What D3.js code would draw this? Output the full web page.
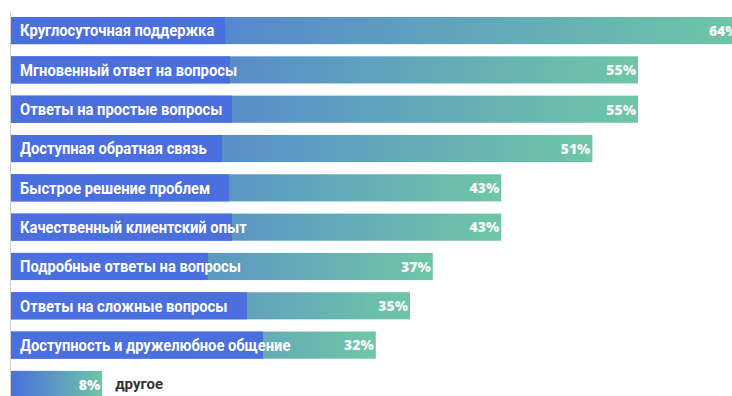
<!DOCTYPE html>
<meta charset="utf-8">
<style>
body { margin: 0; background: #fff; }
.label { font-family: Roboto, sans-serif; font-weight: 700; font-size: 16px; fill: #fff; }
.value { font-family: "Open Sans", sans-serif; font-weight: 800; font-size: 14px; fill: #f2f6f4; }
.other { font-family: Roboto, sans-serif; font-weight: 700; font-size: 15px; fill: #333; }
</style>
<svg class="chart" width="732" height="396"></svg>
<script src="https://d3js.org/d3.v7.min.js"></script>
<script>

var categories = [
  "Круглосуточная поддержка",
  "Мгновенный ответ на вопросы",
  "Ответы на простые вопросы",
  "Доступная обратная связь",
  "Быстрое решение проблем",
  "Качественный клиентский опыт",
  "Подробные ответы на вопросы",
  "Ответы на сложные вопросы",
  "Доступность и дружелюбное общение",
  "другое"
];
var values = [64, 55, 55, 51, 43, 43, 37, 35, 32, 8];
var valueLabels = ["64%", "55%", "55%", "51%", "43%", "43%", "37%", "35%", "32%", "8%"];

// width of the solid blue patch behind each label (styling only)
var patchWidth = [214, 219, 221, 211, 218, 221, 197, 236, 252, 0];

var svg = d3.select(".chart"),
    width = +svg.attr("width"),
    height = +svg.attr("height");

var x = d3.scaleLinear().domain([0, 55]).range([11, 638]);
var y = d3.scaleBand().domain(categories).range([17, 398]).paddingInner(0.31).paddingOuter(0);

var defs = svg.append("defs");
var grad = defs.append("linearGradient").attr("id", "barGrad");
grad.append("stop").attr("offset", "0%").attr("stop-color", "#4a6fdd");
grad.append("stop").attr("offset", "100%").attr("stop-color", "#6fc6a6");

svg.append("line")
    .attr("x1", 10.5).attr("x2", 10.5)
    .attr("y1", 12).attr("y2", height)
    .attr("stroke", "#d0d0d0");

var rows = svg.append("g").selectAll("g")
  .data(categories)
  .enter().append("g")
    .attr("transform", function(d) { return "translate(0," + y(d) + ")"; });

rows.append("rect")
    .attr("x", x(0))
    .attr("width", function(d, i) { return x(values[i]) - x(0); })
    .attr("height", y.bandwidth())
    .attr("fill", "url(#barGrad)");

rows.append("rect")
    .attr("x", x(0))
    .attr("width", function(d, i) { return patchWidth[i]; })
    .attr("height", y.bandwidth())
    .attr("fill", "#4b6fdf");

rows.filter(function(d, i) { return i < categories.length - 1; })
  .append("text")
    .attr("class", "label")
    .attr("x", x(0) + 9)
    .attr("y", y.bandwidth() / 2)
    .attr("dy", "0.36em")
    .text(function(d) { return d; })
    .each(function() {
      var w = this.getComputedTextLength();
      d3.select(this).attr("textLength", w * 0.92).attr("lengthAdjust", "spacingAndGlyphs");
    });

rows.append("text")
    .attr("class", "value")
    .attr("x", function(d, i) { return x(values[i]) - 2; })
    .attr("y", y.bandwidth() / 2)
    .attr("dy", "0.38em")
    .attr("text-anchor", "end")
    .text(function(d, i) { return valueLabels[i]; });

rows.filter(function(d, i) { return i === categories.length - 1; })
  .append("text")
    .attr("class", "other")
    .attr("x", function(d, i) { return x(values[values.length - 1]) + 13; })
    .attr("y", y.bandwidth() / 2 - 1)
    .attr("dy", "0.36em")
    .text(function(d) { return d; });

</script>
